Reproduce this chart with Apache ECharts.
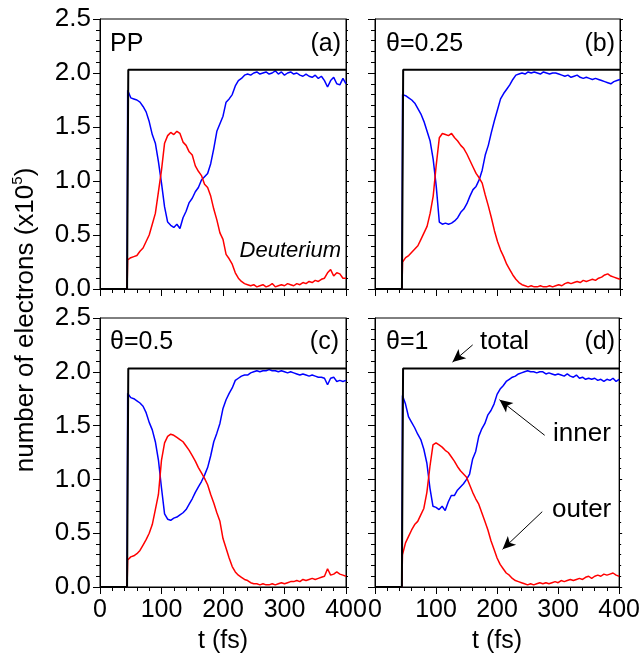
<!DOCTYPE html>
<html><head><meta charset="utf-8">
<script src="https://cdn.jsdelivr.net/npm/echarts@6/dist/echarts.min.js"></script>
<style>html,body{margin:0;padding:0;background:#fff}#c{width:643px;height:658px}</style>
</head><body><div id="c"></div>
<script>
const FONT = "'Liberation Sans', Arial, Helvetica, sans-serif";

// sampling times (fs)
const T = [45,50,55,60,65,70,75,80,85,90,95,100,
  105,110,115,120,125,130,135,140,145,150,155,160,
  165,170,175,180,185,190,195,200,205,210,215,220,
  225,230,235,240,245,250,255,260,265,270,275,280,
  285,290,295,300,305,310,315,320,325,330,335,340,
  345,350,355,360,365,370,375,380,385,390,395,400];
const preT = [0, 44];
const preV = [0, 0];
const totalT = [0, 44, 46, 400];
const totalV = [0, 0, 2.03, 2.03];

const innerA = [1.84,1.77,1.76,1.75,1.73,1.69,1.64,1.55,1.43,1.35,1.18,0.98,
  0.76,0.62,0.59,0.57,0.60,0.56,0.66,0.72,0.80,0.84,0.90,0.94,
  1.01,1.04,1.07,1.16,1.30,1.46,1.53,1.60,1.73,1.76,1.80,1.88,
  1.93,1.95,1.98,1.99,1.98,2.00,2.01,1.99,2.00,2.01,1.99,2.00,
  2.02,1.99,2.01,1.98,2.00,2.01,1.99,2.00,1.98,1.97,1.99,1.97,
  1.96,1.98,1.95,1.97,1.93,1.87,1.93,1.96,1.90,1.89,1.95,1.90];
const outerA = [0.27,0.29,0.30,0.31,0.35,0.38,0.44,0.50,0.60,0.70,0.90,1.10,
  1.35,1.42,1.45,1.43,1.46,1.44,1.36,1.33,1.27,1.24,1.14,1.09,
  1.05,0.97,0.94,0.86,0.74,0.64,0.52,0.46,0.32,0.28,0.23,0.15,
  0.10,0.07,0.05,0.04,0.03,0.04,0.02,0.03,0.04,0.02,0.03,0.05,
  0.02,0.03,0.04,0.03,0.05,0.04,0.03,0.05,0.04,0.06,0.05,0.07,
  0.06,0.08,0.07,0.09,0.10,0.15,0.18,0.12,0.15,0.14,0.10,0.10];
const innerB = [1.80,1.79,1.77,1.75,1.72,1.67,1.62,1.55,1.46,1.37,1.20,0.95,
  0.62,0.60,0.61,0.60,0.61,0.63,0.66,0.71,0.74,0.79,0.86,0.92,
  0.95,1.01,1.10,1.24,1.33,1.45,1.56,1.66,1.76,1.81,1.85,1.89,
  1.94,1.98,1.99,2.00,1.99,2.01,2.00,2.01,2.00,1.99,2.01,2.00,
  1.99,2.00,2.00,1.99,1.98,1.97,1.98,1.96,1.97,1.98,1.96,1.95,
  1.96,1.95,1.94,1.95,1.94,1.93,1.92,1.91,1.90,1.92,1.93,1.94];
const outerB = [0.25,0.29,0.31,0.34,0.37,0.40,0.46,0.52,0.58,0.70,0.86,1.15,
  1.40,1.44,1.43,1.42,1.44,1.40,1.37,1.33,1.30,1.25,1.19,1.13,
  1.07,1.03,0.98,0.87,0.77,0.66,0.54,0.44,0.36,0.30,0.23,0.18,
  0.13,0.09,0.06,0.04,0.03,0.02,0.03,0.02,0.02,0.03,0.02,0.02,
  0.03,0.02,0.03,0.04,0.03,0.05,0.06,0.05,0.06,0.07,0.06,0.08,
  0.07,0.08,0.09,0.08,0.10,0.11,0.13,0.14,0.12,0.11,0.10,0.09];
const innerC = [1.80,1.76,1.75,1.73,1.71,1.68,1.62,1.53,1.46,1.35,1.18,0.92,
  0.68,0.63,0.62,0.64,0.65,0.67,0.69,0.72,0.77,0.82,0.88,0.93,
  0.98,1.04,1.11,1.22,1.35,1.43,1.52,1.66,1.74,1.80,1.85,1.92,
  1.94,1.96,1.97,1.97,1.99,2.00,2.01,2.00,2.01,2.01,2.02,2.01,
  2.01,2.00,2.01,2.00,1.99,2.00,1.99,1.98,1.97,1.98,1.97,1.96,
  1.97,1.96,1.95,1.95,1.94,1.88,1.94,1.95,1.91,1.92,1.91,1.92];
const outerC = [0.25,0.28,0.29,0.31,0.34,0.39,0.44,0.50,0.58,0.72,0.86,1.18,
  1.34,1.40,1.42,1.41,1.39,1.37,1.35,1.31,1.27,1.22,1.17,1.11,
  1.06,1.01,0.95,0.86,0.78,0.69,0.61,0.45,0.36,0.27,0.19,0.14,
  0.11,0.09,0.07,0.06,0.04,0.03,0.03,0.02,0.03,0.02,0.02,0.03,
  0.02,0.03,0.04,0.03,0.04,0.05,0.05,0.06,0.05,0.07,0.06,0.07,
  0.08,0.07,0.08,0.09,0.10,0.17,0.11,0.12,0.14,0.12,0.11,0.10];
const innerD = [1.78,1.70,1.58,1.53,1.48,1.42,1.37,1.28,1.15,0.92,0.75,0.74,
  0.72,0.75,0.71,0.79,0.85,0.85,0.90,0.93,0.96,1.00,1.05,1.19,
  1.26,1.40,1.47,1.52,1.60,1.64,1.70,1.79,1.84,1.87,1.91,1.93,
  1.95,1.96,1.98,1.99,2.00,2.01,2.00,2.00,1.99,2.00,2.00,1.98,
  1.99,1.98,1.97,1.98,1.97,1.96,1.98,1.96,1.95,1.97,1.94,1.95,
  1.93,1.94,1.93,1.94,1.92,1.93,1.91,1.93,1.92,1.94,1.91,1.93];
const outerD = [0.30,0.41,0.47,0.53,0.58,0.61,0.67,0.73,0.88,1.12,1.32,1.34,
  1.32,1.30,1.27,1.25,1.21,1.17,1.12,1.08,1.05,1.02,0.95,0.88,
  0.82,0.77,0.69,0.61,0.53,0.43,0.35,0.27,0.21,0.17,0.13,0.11,
  0.08,0.06,0.05,0.04,0.03,0.02,0.03,0.02,0.03,0.04,0.03,0.04,
  0.03,0.04,0.05,0.04,0.06,0.05,0.06,0.07,0.06,0.07,0.08,0.07,
  0.09,0.10,0.08,0.10,0.11,0.10,0.12,0.11,0.12,0.13,0.11,0.10];

const panelNames = ['PP', 'θ=0.25', 'θ=0.5', 'θ=1'];
const panelTags = ['(a)', '(b)', '(c)', '(d)'];
const xTicks = [0, 100, 200, 300, 400];
const yTicks = [0, 0.5, 1.0, 1.5, 2.0, 2.5];

// annotation arrows in panel (d): [t, value] tail -> head
const arrowFrom = [[160, 2.25], [278, 1.41], [274, 0.70]];
const arrowTo   = [[127, 2.09], [204, 1.74], [209, 0.35]];

const innerAll = [innerA, innerB, innerC, innerD];
const outerAll = [outerA, outerB, outerC, outerD];

const grids = [
  {left: 100, top: 19, width: 246, height: 270},
  {left: 375, top: 19, width: 245, height: 270},
  {left: 100, top: 318, width: 246, height: 269},
  {left: 375, top: 318, width: 245, height: 269}
].map(g => Object.assign({show: true, borderColor: '#000', borderWidth: 1, backgroundColor: 'transparent'}, g));

const blk = {color: '#000', width: 1};
const xAxes = [], yAxes = [], series = [];
for (let i = 0; i < 4; i++) {
  const bottomRow = i >= 2, leftCol = (i % 2 === 0);
  xAxes.push({
    type: 'value', gridIndex: i, min: 0, max: 400, interval: 100,
    axisLine: {show: true, onZero: false, lineStyle: blk},
    axisTick: {show: true, inside: false, length: 7, lineStyle: blk},
    minorTick: {show: true, splitNumber: 5, length: 4, lineStyle: blk},
    splitLine: {show: false},
    axisLabel: {show: bottomRow, color: '#000', fontSize: 25, fontFamily: FONT, margin: 11,
      formatter: v => xTicks.includes(v) ? String(v) : ''}
  });
  yAxes.push({
    type: 'value', gridIndex: i, min: 0, max: 2.5, interval: 0.5, position: 'left',
    axisLine: {show: true, onZero: false, lineStyle: blk},
    axisTick: {show: true, inside: false, length: 7, lineStyle: blk},
    minorTick: {show: true, splitNumber: 5, length: 4, lineStyle: blk},
    splitLine: {show: false},
    axisLabel: {show: leftCol, color: '#000', fontSize: 26, fontFamily: FONT, margin: 9,
      formatter: v => yTicks.some(t => Math.abs(t - v) < 1e-9) ? v.toFixed(1) : ''}
  });
  yAxes.push({
    type: 'value', gridIndex: i, min: 0, max: 2.5, interval: 0.5, position: 'right',
    axisLine: {show: true, onZero: false, lineStyle: blk},
    axisTick: {show: true, inside: false, length: 3, lineStyle: blk},
    minorTick: {show: true, splitNumber: 5, length: 2, lineStyle: blk},
    splitLine: {show: false},
    axisLabel: {show: false}
  });
  const pre = preT.map((t, k) => [t, preV[k]]);
  series.push({
    type: 'line', xAxisIndex: i, yAxisIndex: 2 * i, showSymbol: false, animation: false,
    lineStyle: {color: '#0000ff', width: 1.5}, itemStyle: {color: '#0000ff'},
    data: pre.concat(T.map((t, k) => [t, innerAll[i][k]]))
  });
  series.push({
    type: 'line', xAxisIndex: i, yAxisIndex: 2 * i, showSymbol: false, animation: false,
    lineStyle: {color: '#ff0000', width: 1.5}, itemStyle: {color: '#ff0000'},
    data: pre.concat(T.map((t, k) => [t, outerAll[i][k]]))
  });
  const tot = {
    type: 'line', xAxisIndex: i, yAxisIndex: 2 * i, showSymbol: false, animation: false,
    lineStyle: {color: '#000', width: 2}, itemStyle: {color: '#000'},
    data: totalT.map((t, k) => [t, totalV[k]])
  };
  if (i === 3) {
    tot.markLine = {
      silent: true, animation: false, symbol: ['none', 'arrow'], symbolSize: [9, 13],
      lineStyle: {color: '#000', width: 1, type: 'solid'},
      label: {show: false},
      data: arrowFrom.map((f, k) => [{coord: f}, {coord: arrowTo[k]}])
    };
  }
  series.push(tot);
}

const txt = (x, y, text, extra) => ({
  type: 'text', x: x, y: y, silent: true,
  style: Object.assign({text: text, fill: '#000', font: '25px ' + FONT, textVerticalAlign: 'middle', verticalAlign: 'middle'}, extra || {})
});

const graphic = [];
const nameX = [110, 386, 110, 386];
const tagX = [341, 615, 339, 615];
const rowY = [44, 44, 342, 342];
for (let i = 0; i < 4; i++) {
  graphic.push(txt(nameX[i], rowY[i], panelNames[i]));
  graphic.push(txt(tagX[i], rowY[i], panelTags[i], {align: 'right', textAlign: 'right'}));
}
graphic.push(txt(341, 251, 'Deuterium', {align: 'right', textAlign: 'right', font: 'italic 22px ' + FONT}));
graphic.push(txt(480, 342, 'total', {font: '26px ' + FONT}));
graphic.push(txt(553, 434, 'inner', {font: '26px ' + FONT}));
graphic.push(txt(552, 510, 'outer', {font: '26px ' + FONT}));
graphic.push(txt(223, 641, 't (fs)', {align: 'center', textAlign: 'center'}));
graphic.push(txt(497, 641, 't (fs)', {align: 'center', textAlign: 'center'}));
graphic.push({
  type: 'text', x: 26, y: 320, rotation: Math.PI / 2, silent: true,
  style: {
    text: '{a|number of electrons (x10}{s|5}{a|)}',
    align: 'center', verticalAlign: 'middle',
    rich: {
      a: {fontSize: 26, fontFamily: FONT, fill: '#000', color: '#000'},
      s: {fontSize: 15, fontFamily: FONT, fill: '#000', color: '#000', padding: [0, 0, 16, 0]}
    }
  }
});

const chart = echarts.init(document.getElementById('c'), null, {renderer: 'canvas'});
chart.setOption({
  animation: false,
  backgroundColor: '#fff',
  grid: grids, xAxis: xAxes, yAxis: yAxes, series: series, graphic: graphic
});
</script>
</body></html>
